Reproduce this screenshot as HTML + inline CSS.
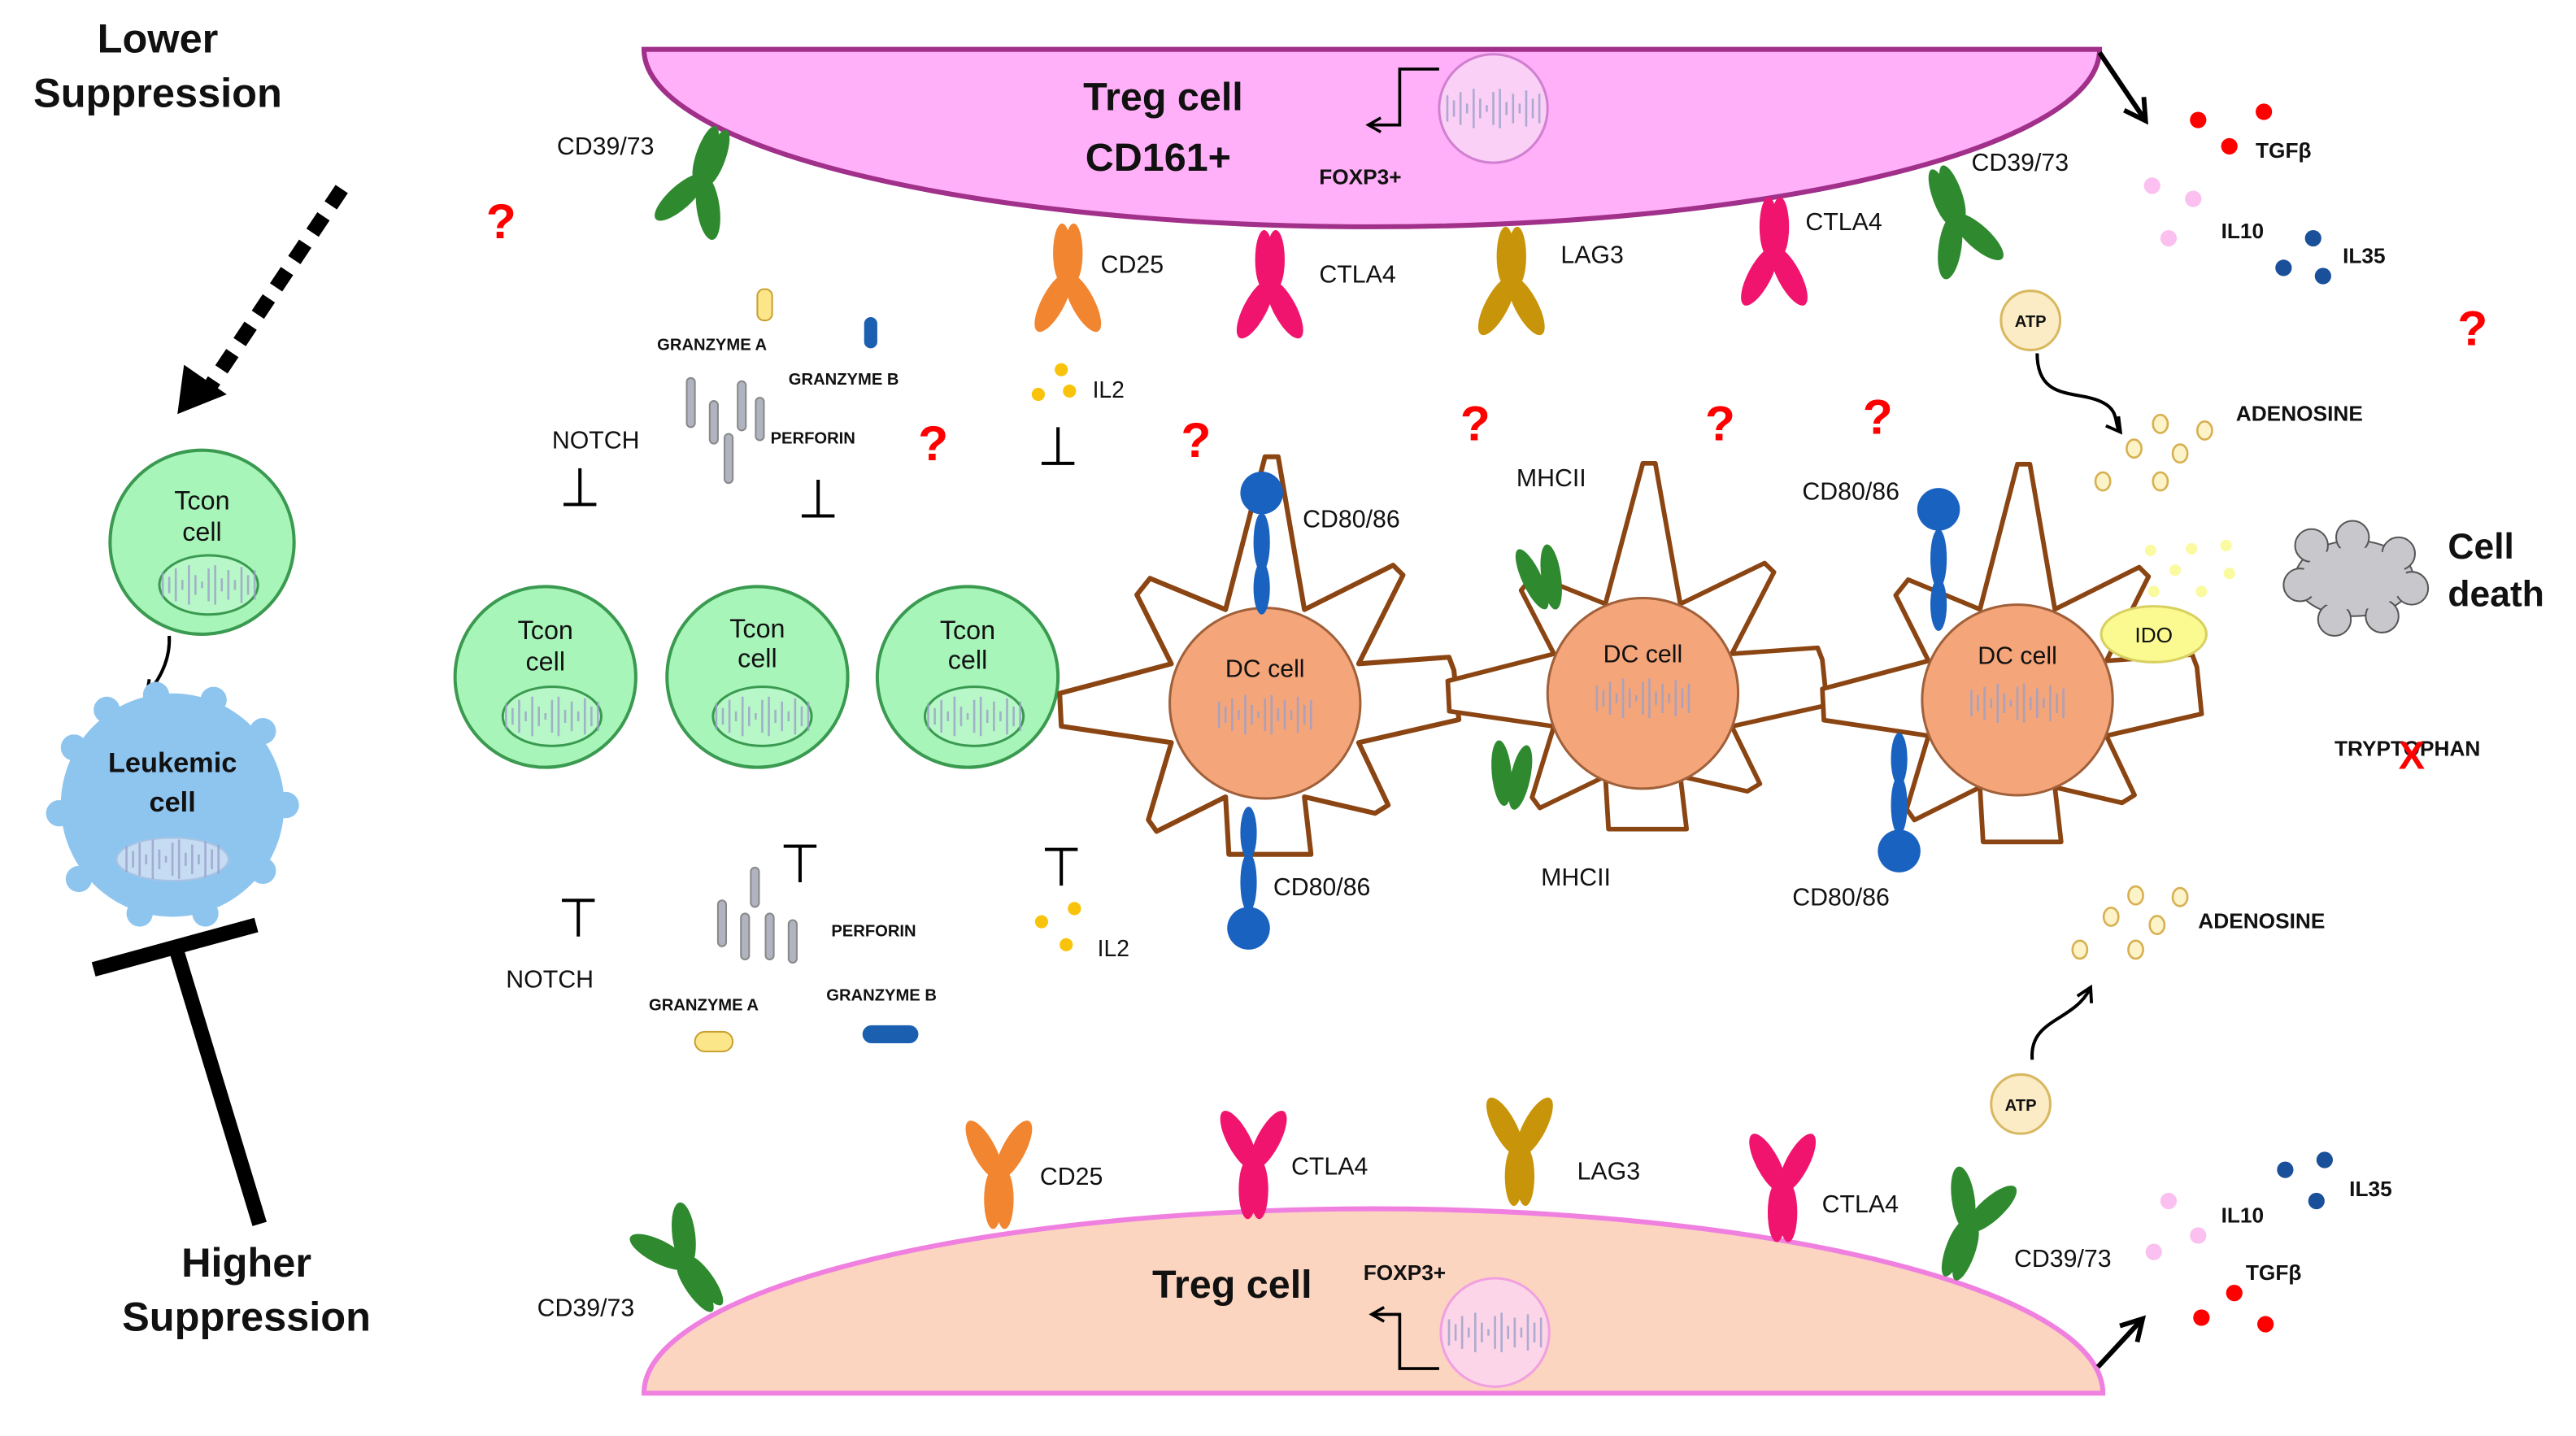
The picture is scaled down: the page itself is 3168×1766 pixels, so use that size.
<!DOCTYPE html>
<html><head><meta charset="utf-8">
<style>
html,body{margin:0;padding:0;background:#fff;}
svg{display:block;}
text{font-family:"Liberation Sans",Arial,sans-serif;fill:#111;}
.b{font-weight:bold;}
</style></head>
<body>
<svg width="3168" height="1766" viewBox="0 0 1568 874" xmlns="http://www.w3.org/2000/svg">
<defs>
  <marker id="ah" viewBox="0 0 10 10" refX="7" refY="5" markerWidth="6" markerHeight="6" orient="auto">
    <path d="M1,1 L8,5 L1,9" fill="none" stroke="#000" stroke-width="1.6"/>
  </marker>
  <g id="yr">
    <ellipse cx="-9" cy="-16" rx="7" ry="20" transform="rotate(-28 -9 -16)"/>
    <ellipse cx="9" cy="-16" rx="7" ry="20" transform="rotate(28 9 -16)"/>
    <ellipse cx="-3.5" cy="14" rx="5.5" ry="18"/>
    <ellipse cx="3.5" cy="14" rx="5.5" ry="18"/>
  </g>
  <g id="dna" stroke="#9aa0c8" stroke-width="1.3" fill="none" opacity="0.8">
    <path d="M-28,-8v16M-24,-5v10M-20,-10v20M-16,-3v6M-12,-12v24M-8,-6v12M-4,-2v4M0,-10v20M4,-12v24M8,-4v8M12,-9v18M16,-3v6M20,-11v22M24,-6v12M28,-9v18"/>
  </g>
  <path id="star" d="M0,-150 L8,-150 L24,-57 L78,-84 L84,-78 L57,-24 L112,-28 L115,-20 L118,10 L57,24 L75,62 L67,67 L24,57 L28,92 L-22,92 L-24,57 L-66,78 L-71,71 L-57,24 L-124,14 L-125,-6 L-57,-24 L-78,-66 L-70,-76 L-24,-57 Z" fill="#fff" stroke="#8b4513" stroke-width="3" stroke-linejoin="round"/>
  <g id="mhc" fill="#2f8a2f">
    <ellipse cx="-6" cy="0" rx="6" ry="20" transform="rotate(-25)"/>
    <ellipse cx="6" cy="2" rx="6" ry="20" transform="rotate(-8)"/>
  </g>
</defs>

<!-- Left side -->
<text x="96" y="32" class="b" font-size="25" text-anchor="middle">Lower</text>
<text x="96" y="65" class="b" font-size="25" text-anchor="middle">Suppression</text>
<line x1="208" y1="115" x2="128" y2="235" stroke="#000" stroke-width="9" stroke-dasharray="12,8"/>
<path d="M108,252 L112,222 L138,240 Z" fill="#000"/>

<circle cx="123" cy="330" r="56" fill="#a8f5ba" stroke="#3a9a50" stroke-width="2"/>
<text x="123" y="310" font-size="16" text-anchor="middle">Tcon</text>
<text x="123" y="329" font-size="16" text-anchor="middle">cell</text>
<ellipse cx="127" cy="356" rx="30" ry="18" fill="#b8f7c8" stroke="#3a9a50" stroke-width="1.5"/>
<use href="#dna" x="127" y="356" transform="translate(0,0)"/>
<path d="M103,387 Q104,405 90,422" fill="none" stroke="#000" stroke-width="2" marker-end="url(#ah)"/>

<g fill="#8ec5ef">
  <circle cx="105" cy="490" r="68"/>
  <circle cx="45" cy="455" r="8"/><circle cx="65" cy="432" r="8"/><circle cx="95" cy="423" r="8"/><circle cx="130" cy="426" r="8"/>
  <circle cx="160" cy="445" r="8"/><circle cx="174" cy="490" r="8"/><circle cx="160" cy="530" r="8"/><circle cx="125" cy="556" r="8"/>
  <circle cx="85" cy="556" r="8"/><circle cx="48" cy="535" r="8"/><circle cx="36" cy="495" r="8"/>
</g>
<text x="105" y="470" class="b" font-size="17" text-anchor="middle">Leukemic</text>
<text x="105" y="494" class="b" font-size="17" text-anchor="middle">cell</text>
<ellipse cx="105" cy="523" rx="34" ry="13" fill="#c5dcf3" stroke="#a9c3e3"/>
<use href="#dna" x="105" y="523"/>

<line x1="57" y1="590" x2="156" y2="563" stroke="#000" stroke-width="9"/>
<line x1="107" y1="577" x2="158" y2="745" stroke="#000" stroke-width="9"/>
<text x="150" y="777" class="b" font-size="25" text-anchor="middle">Higher</text>
<text x="150" y="810" class="b" font-size="25" text-anchor="middle">Suppression</text>

<!-- Top Treg -->
<path d="M392,30 A443,108 0 0 0 1278,30 Z" fill="#ffb0f8" stroke="#a0308a" stroke-width="3"/>
<circle cx="909" cy="66" r="33" fill="#fbd0f7" stroke="#d080d0" stroke-width="1.5"/>
<use href="#dna" x="909" y="66"/>
<text x="708" y="67" class="b" font-size="24" text-anchor="middle">Treg cell</text>
<text x="705" y="104" class="b" font-size="24" text-anchor="middle">CD161+</text>
<text x="828" y="112" class="b" font-size="13" text-anchor="middle">FOXP3+</text>
<path d="M876,42 L852,42 L852,76 L834,76" fill="none" stroke="#000" stroke-width="1.8" marker-end="url(#ah)"/>
<path d="M1278,32 L1305,72" stroke="#000" stroke-width="3" marker-end="url(#ah)"/>

<!-- Top receptors -->
<g fill="#2f8a2f"><use href="#yr" transform="translate(428,108) rotate(200)"/></g>
<g fill="#2f8a2f"><use href="#yr" transform="translate(1190,132) rotate(160)"/></g>
<g fill="#f28530"><use href="#yr" transform="translate(650,168) rotate(180)"/></g>
<g fill="#f0146e"><use href="#yr" transform="translate(773,172) rotate(180)"/></g>
<g fill="#c8940a"><use href="#yr" transform="translate(920,170) rotate(180)"/></g>
<g fill="#f0146e"><use href="#yr" transform="translate(1080,152) rotate(180)"/></g>
<text x="339" y="94" font-size="15">CD39/73</text>
<text x="670" y="166" font-size="15">CD25</text>
<text x="803" y="172" font-size="15">CTLA4</text>
<text x="950" y="160" font-size="15">LAG3</text>
<text x="1099" y="140" font-size="15">CTLA4</text>
<text x="1200" y="104" font-size="15">CD39/73</text>

<!-- Question marks -->
<g fill="#f00" class="b" font-size="30" text-anchor="middle" font-weight="bold">
<text x="305" y="145" style="fill:#f00">?</text>
<text x="568" y="280" style="fill:#f00">?</text>
<text x="728" y="278" style="fill:#f00">?</text>
<text x="898" y="268" style="fill:#f00">?</text>
<text x="1047" y="268" style="fill:#f00">?</text>
<text x="1143" y="264" style="fill:#f00">?</text>
<text x="1505" y="210" style="fill:#f00">?</text>
</g>

<!-- Top cytotoxic -->
<rect x="461" y="176" width="9" height="19" rx="4" fill="#fce68a" stroke="#c8a030"/>
<rect x="526" y="193" width="8" height="19" rx="4" fill="#1a5fb0"/>
<text x="400" y="213" font-size="10" class="b">GRANZYME A</text>
<text x="480" y="234" font-size="10" class="b">GRANZYME B</text>
<text x="469" y="270" font-size="10" class="b">PERFORIN</text>
<g fill="#b0b4c0" stroke="#888">
<rect x="418" y="230" width="5" height="30" rx="2.5"/><rect x="432" y="244" width="5" height="26" rx="2.5"/>
<rect x="441" y="264" width="5" height="30" rx="2.5"/><rect x="449" y="232" width="5" height="30" rx="2.5"/><rect x="460" y="242" width="5" height="26" rx="2.5"/>
</g>
<text x="336" y="273" font-size="15">NOTCH</text>
<path d="M353,285 v22 M343,307 h20" stroke="#000" stroke-width="2"/>
<path d="M498,292 v22 M488,314 h20" stroke="#000" stroke-width="2"/>
<g fill="#f8c30a"><circle cx="646" cy="225" r="4"/><circle cx="632" cy="240" r="4"/><circle cx="651" cy="238" r="4"/></g>
<text x="665" y="242" font-size="14">IL2</text>
<path d="M644,260 v22 M634,282 h20" stroke="#000" stroke-width="2"/>

<!-- Tcon row -->
<g>
<circle cx="332" cy="412" r="55" fill="#a8f5ba" stroke="#3a9a50" stroke-width="2"/>
<text x="332" y="389" font-size="16" text-anchor="middle">Tcon</text><text x="332" y="408" font-size="16" text-anchor="middle">cell</text>
<ellipse cx="336" cy="436" rx="30" ry="18" fill="#b8f7c8" stroke="#3a9a50" stroke-width="1.5"/><use href="#dna" x="336" y="436"/>
<circle cx="461" cy="412" r="55" fill="#a8f5ba" stroke="#3a9a50" stroke-width="2"/>
<text x="461" y="388" font-size="16" text-anchor="middle">Tcon</text><text x="461" y="406" font-size="16" text-anchor="middle">cell</text>
<ellipse cx="464" cy="436" rx="30" ry="18" fill="#b8f7c8" stroke="#3a9a50" stroke-width="1.5"/><use href="#dna" x="464" y="436"/>
<circle cx="589" cy="412" r="55" fill="#a8f5ba" stroke="#3a9a50" stroke-width="2"/>
<text x="589" y="389" font-size="16" text-anchor="middle">Tcon</text><text x="589" y="407" font-size="16" text-anchor="middle">cell</text>
<ellipse cx="593" cy="436" rx="30" ry="18" fill="#b8f7c8" stroke="#3a9a50" stroke-width="1.5"/><use href="#dna" x="593" y="436"/>
</g>

<!-- DC cells -->
<use href="#star" transform="translate(770,428)"/>
<use href="#star" transform="translate(1000,420) scale(0.95,0.92)"/>
<use href="#star" transform="translate(1228,425) scale(0.95,0.95)"/>
<circle cx="770" cy="428" r="58" fill="#f5a57a" stroke="#a0603a" stroke-width="1.5"/>
<circle cx="1000" cy="422" r="58" fill="#f5a57a" stroke="#a0603a" stroke-width="1.5"/>
<circle cx="1228" cy="426" r="58" fill="#f5a57a" stroke="#a0603a" stroke-width="1.5"/>
<text x="770" y="412" font-size="15" text-anchor="middle">DC cell</text>
<text x="1000" y="403" font-size="15" text-anchor="middle">DC cell</text>
<text x="1228" y="404" font-size="15" text-anchor="middle">DC cell</text>
<use href="#dna" x="770" y="435"/><use href="#dna" x="1000" y="425"/><use href="#dna" x="1228" y="428"/>

<!-- CD80/86 -->
<g fill="#1a62c0">
<circle cx="768" cy="300" r="13"/><ellipse cx="768" cy="330" rx="5" ry="18"/><ellipse cx="768" cy="358" rx="5" ry="16"/>
<circle cx="760" cy="565" r="13"/><ellipse cx="760" cy="507" rx="5" ry="16"/><ellipse cx="760" cy="537" rx="5" ry="18"/>
<circle cx="1180" cy="310" r="13"/><ellipse cx="1180" cy="340" rx="5" ry="18"/><ellipse cx="1180" cy="368" rx="5" ry="16"/>
<circle cx="1156" cy="518" r="13"/><ellipse cx="1156" cy="462" rx="5" ry="16"/><ellipse cx="1156" cy="490" rx="5" ry="18"/>
</g>
<text x="793" y="321" font-size="15">CD80/86</text>
<text x="775" y="545" font-size="15">CD80/86</text>
<text x="1097" y="304" font-size="15">CD80/86</text>
<text x="1091" y="551" font-size="15">CD80/86</text>
<use href="#mhc" transform="translate(938,350)"/>
<use href="#mhc" transform="translate(920,470) rotate(20)"/>
<text x="923" y="296" font-size="15">MHCII</text>
<text x="938" y="539" font-size="15">MHCII</text>

<!-- Bottom cytotoxic -->
<path d="M487,515 v22 M477,515 h20" stroke="#000" stroke-width="2"/>
<path d="M646,517 v22 M636,517 h20" stroke="#000" stroke-width="2"/>
<path d="M352,548 v22 M342,548 h20" stroke="#000" stroke-width="2"/>
<text x="308" y="601" font-size="15">NOTCH</text>
<g fill="#b0b4c0" stroke="#888">
<rect x="437" y="548" width="5" height="28" rx="2.5"/><rect x="451" y="556" width="5" height="28" rx="2.5"/>
<rect x="457" y="528" width="5" height="24" rx="2.5"/><rect x="466" y="556" width="5" height="28" rx="2.5"/><rect x="480" y="560" width="5" height="26" rx="2.5"/>
</g>
<text x="506" y="570" font-size="10" class="b">PERFORIN</text>
<text x="395" y="615" font-size="10" class="b">GRANZYME A</text>
<text x="503" y="609" font-size="10" class="b">GRANZYME B</text>
<rect x="423" y="628" width="23" height="12" rx="6" fill="#fce68a" stroke="#c8a030"/>
<rect x="525" y="624" width="34" height="11" rx="5.5" fill="#1a5fb0"/>
<g fill="#f8c30a"><circle cx="654" cy="553" r="4"/><circle cx="634" cy="561" r="4"/><circle cx="649" cy="575" r="4"/></g>
<text x="668" y="582" font-size="14">IL2</text>

<!-- Bottom Treg -->
<path d="M392,848 A443,112 0 0 1 1280,848 Z" fill="#fcd5c0" stroke="#f080e0" stroke-width="3"/>
<circle cx="910" cy="811" r="33" fill="#fcd5e8" stroke="#f0a0e0" stroke-width="1.5"/>
<use href="#dna" x="910" y="811"/>
<text x="750" y="790" class="b" font-size="24" text-anchor="middle">Treg cell</text>
<text x="855" y="779" class="b" font-size="13" text-anchor="middle">FOXP3+</text>
<path d="M876,833 L852,833 L852,800 L836,800" fill="none" stroke="#000" stroke-width="1.8" marker-end="url(#ah)"/>
<path d="M1277,832 L1303,804" stroke="#000" stroke-width="3" marker-end="url(#ah)"/>

<g fill="#2f8a2f"><use href="#yr" transform="translate(418,770) rotate(-35)"/></g>
<g fill="#2f8a2f"><use href="#yr" transform="translate(1198,748) rotate(20)"/></g>
<g fill="#f28530"><use href="#yr" transform="translate(608,716)"/></g>
<g fill="#f0146e"><use href="#yr" transform="translate(763,710)"/></g>
<g fill="#c8940a"><use href="#yr" transform="translate(925,702)"/></g>
<g fill="#f0146e"><use href="#yr" transform="translate(1085,724)"/></g>
<text x="327" y="801" font-size="15">CD39/73</text>
<text x="633" y="721" font-size="15">CD25</text>
<text x="786" y="715" font-size="15">CTLA4</text>
<text x="960" y="718" font-size="15">LAG3</text>
<text x="1109" y="738" font-size="15">CTLA4</text>
<text x="1226" y="771" font-size="15">CD39/73</text>

<!-- Right side top -->
<g fill="#f00"><circle cx="1338" cy="73" r="5"/><circle cx="1378" cy="68" r="5"/><circle cx="1357" cy="89" r="5"/></g>
<text x="1373" y="96" class="b" font-size="13">TGFβ</text>
<g fill="#fbc0f0"><circle cx="1310" cy="113" r="5"/><circle cx="1335" cy="121" r="5"/><circle cx="1320" cy="145" r="5"/></g>
<text x="1352" y="145" class="b" font-size="13">IL10</text>
<g fill="#1a4f9a"><circle cx="1408" cy="145" r="5"/><circle cx="1390" cy="163" r="5"/><circle cx="1414" cy="168" r="5"/></g>
<text x="1426" y="160" class="b" font-size="13">IL35</text>
<circle cx="1236" cy="195" r="18" fill="#fcecc5" stroke="#d8b860" stroke-width="1.5"/>
<text x="1236" y="199" font-size="10" class="b" text-anchor="middle">ATP</text>
<path d="M1240,215 C1240,245 1265,237 1280,245 C1290,250 1287,258 1290,262" fill="none" stroke="#000" stroke-width="2" marker-end="url(#ah)"/>
<g fill="#fdf3c8" stroke="#d8b050" stroke-width="1.3">
<ellipse cx="1315" cy="258" rx="4.5" ry="5.5"/><ellipse cx="1342" cy="262" rx="4.5" ry="5.5"/><ellipse cx="1299" cy="273" rx="4.5" ry="5.5"/>
<ellipse cx="1327" cy="276" rx="4.5" ry="5.5"/><ellipse cx="1280" cy="293" rx="4.5" ry="5.5"/><ellipse cx="1315" cy="293" rx="4.5" ry="5.5"/>
</g>
<text x="1361" y="256" class="b" font-size="13">ADENOSINE</text>
<g fill="#fafaa0"><circle cx="1309" cy="335" r="3.5"/><circle cx="1334" cy="334" r="3.5"/><circle cx="1355" cy="332" r="3.5"/><circle cx="1324" cy="347" r="3.5"/><circle cx="1357" cy="349" r="3.5"/><circle cx="1311" cy="360" r="3.5"/><circle cx="1340" cy="360" r="3.5"/></g>
<ellipse cx="1311" cy="386" rx="32" ry="17" fill="#fafa90" stroke="#d8d060" stroke-width="1.5"/>
<text x="1311" y="391" font-size="13" text-anchor="middle">IDO</text>
<g fill="#c8c8cc" stroke="#555" stroke-width="1">
<ellipse cx="1433" cy="352" rx="36" ry="23"/>
<circle cx="1407" cy="332" r="10"/><circle cx="1432" cy="327" r="10"/><circle cx="1460" cy="337" r="10"/><circle cx="1468" cy="358" r="10"/>
<circle cx="1450" cy="375" r="10"/><circle cx="1421" cy="377" r="10"/><circle cx="1400" cy="356" r="10"/>
</g>
<ellipse cx="1433" cy="352" rx="32" ry="19" fill="#c8c8cc"/>
<text x="1490" y="340" class="b" font-size="22">Cell</text>
<text x="1490" y="369" class="b" font-size="22">death</text>
<text x="1421" y="460" class="b" font-size="13">TRYPTOPHAN</text>
<text x="1468" y="468" class="b" font-size="24" text-anchor="middle" style="fill:#f00">X</text>

<!-- Right side bottom -->
<g fill="#fdf3c8" stroke="#d8b050" stroke-width="1.3">
<ellipse cx="1300" cy="545" rx="4.5" ry="5.5"/><ellipse cx="1327" cy="546" rx="4.5" ry="5.5"/><ellipse cx="1285" cy="558" rx="4.5" ry="5.5"/>
<ellipse cx="1313" cy="563" rx="4.5" ry="5.5"/><ellipse cx="1266" cy="578" rx="4.5" ry="5.5"/><ellipse cx="1300" cy="578" rx="4.5" ry="5.5"/>
</g>
<text x="1338" y="565" class="b" font-size="13">ADENOSINE</text>
<path d="M1237,645 C1235,620 1262,622 1272,602 " fill="none" stroke="#000" stroke-width="2" marker-end="url(#ah)"/>
<circle cx="1230" cy="672" r="18" fill="#fcecc5" stroke="#d8b860" stroke-width="1.5"/>
<text x="1230" y="676" font-size="10" class="b" text-anchor="middle">ATP</text>
<g fill="#1a4f9a"><circle cx="1391" cy="712" r="5"/><circle cx="1415" cy="706" r="5"/><circle cx="1410" cy="731" r="5"/></g>
<text x="1430" y="728" class="b" font-size="13">IL35</text>
<g fill="#fbc0f0"><circle cx="1320" cy="731" r="5"/><circle cx="1338" cy="752" r="5"/><circle cx="1311" cy="762" r="5"/></g>
<text x="1352" y="744" class="b" font-size="13">IL10</text>
<g fill="#f00"><circle cx="1360" cy="787" r="5"/><circle cx="1340" cy="802" r="5"/><circle cx="1379" cy="806" r="5"/></g>
<text x="1367" y="779" class="b" font-size="13">TGFβ</text>
</svg>
</body></html>
